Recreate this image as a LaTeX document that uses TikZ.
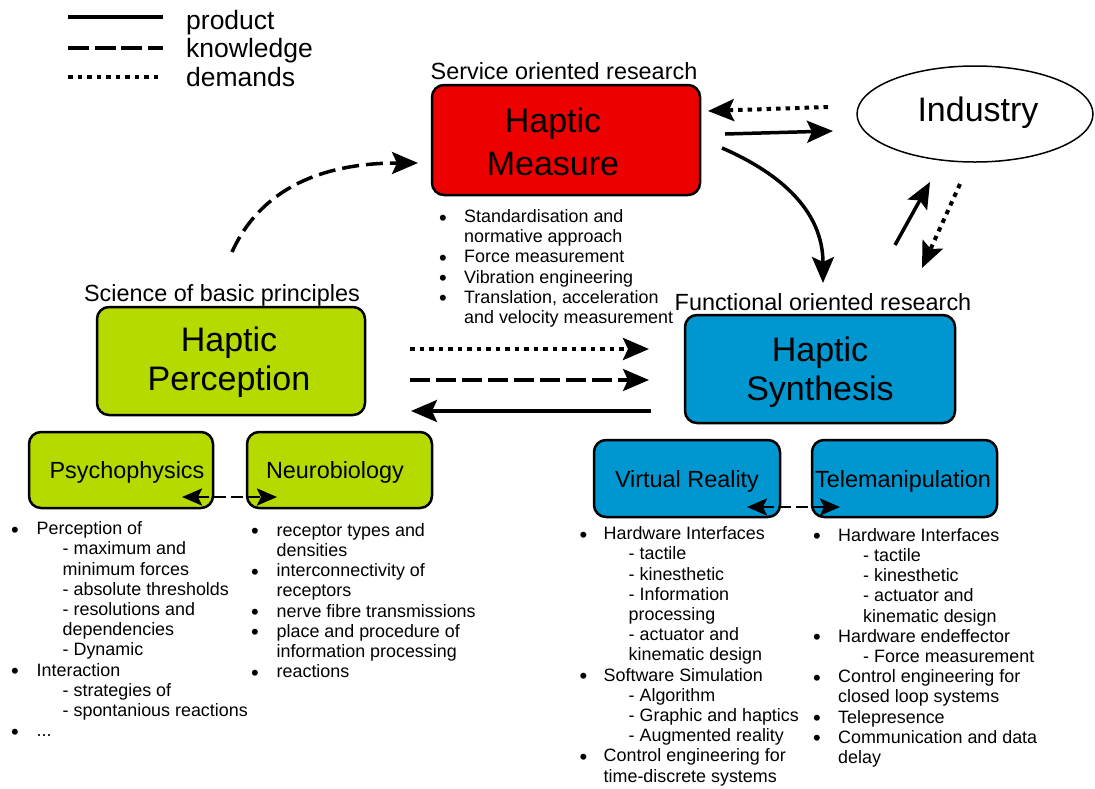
\documentclass[tikz,border=0pt]{standalone}
\usepackage{fontspec}
\setmainfont{Liberation Sans}
\usetikzlibrary{arrows.meta,shapes.geometric}

\definecolor{measred}{RGB}{237,0,0}
\definecolor{percgreen}{RGB}{180,218,0}
\definecolor{synthblue}{RGB}{0,150,207}

% bullet with a fixed-width hanging box
\newcommand\bul[1][25pt]{\makebox[#1][l]{\raisebox{-2.5pt}{\fontsize{22}{20}\selectfont\textbullet}}}

\begin{document}
\begin{tikzpicture}[x=1pt,y=-1pt,
  box/.style={draw=black, line width=2.5pt, rounded corners=12pt, inner sep=0pt},
  biglabel/.style={font=\fontsize{34}{40}\selectfont, inner sep=0pt, anchor=base},
  sublabel/.style={font=\fontsize{23.4}{28}\selectfont, inner sep=0pt, anchor=base},
  heading/.style={font=\fontsize{23.4}{28}\selectfont, inner sep=0pt, anchor=base},
  legtext/.style={font=\fontsize{26.5}{30}\selectfont, inner sep=0pt, anchor=base west},
  itemlist/.style={font=\fontsize{17.9}{20.2}\selectfont, inner sep=0pt, anchor=north west, align=left},
  product/.style={line width=3.5pt},
  knowledge/.style={line width=3.5pt, dash pattern=on 20pt off 6pt},
  demand/.style={line width=4pt, dash pattern=on 4.5pt off 5pt},
  bigtip/.style={-{Stealth[length=26pt,width=22pt,inset=5pt]}},
  twotip/.style={{Stealth[length=20pt,width=17pt,inset=4pt]}-{Stealth[length=20pt,width=17pt,inset=4pt]}},
]
\useasboundingbox (0,0) rectangle (1095,788);

% ---------- legend ----------
\coordinate (lg1a) at (68,17);   \coordinate (lg1b) at (163,17);
\coordinate (lg2a) at (68,48);   \coordinate (lg2b) at (163,48);
\coordinate (lg3a) at (68,77);   \coordinate (lg3b) at (163,77);
\draw[line width=4pt] (lg1a) -- (lg1b);
\draw[line width=4pt, dash pattern=on 21pt off 5.5pt] (lg2a) -- (lg2b);
\draw[line width=4pt, dash pattern=on 4.5pt off 5pt] (lg3a) -- (lg3b);
\node[legtext] (legprod) at (186,29) {product};
\node[legtext] (legknow) at (186,57.5) {knowledge};
\node[legtext] (legdem)  at (186,86) {demands};

% ---------- main boxes ----------
\node[box, fill=measred, minimum width=268pt, minimum height=110pt] (meas) at (566,140) {};
\node[biglabel] (measA) at (553,132) {Haptic};
\node[biglabel] (measB) at (553,175.5) {Measure};
\node[heading] (measH) at (564,79) {Service oriented research};

\node[box, fill=percgreen, minimum width=268pt, minimum height=108pt] (perc) at (231,361) {};
\node[biglabel] (percA) at (229,351) {Haptic};
\node[biglabel] (percB) at (229,390) {Perception};
\node[heading] (percH) at (222,301.5) {Science of basic principles};

\node[box, fill=synthblue, minimum width=270pt, minimum height=108pt] (synt) at (820,369) {};
\node[biglabel] (syntA) at (820,361.7) {Haptic};
\node[biglabel] (syntB) at (820,400.7) {Synthesis};
\node[heading] (syntH) at (823,310.7) {Functional oriented research};

% ---------- sub boxes ----------
\node[box, fill=percgreen, minimum width=184pt, minimum height=76pt] (psy) at (121,470) {};
\node[sublabel] (psyT) at (127,478) {Psychophysics};
\node[box, fill=percgreen, minimum width=185pt, minimum height=76pt] (neu) at (339.5,470) {};
\node[sublabel] (neuT) at (335,478) {Neurobiology};

\node[box, fill=synthblue, minimum width=186pt, minimum height=77pt] (vr) at (687,478.5) {};
\node[sublabel] (vrT) at (687,487) {Virtual Reality};
\node[box, fill=synthblue, minimum width=185pt, minimum height=77pt] (tele) at (904.5,478.5) {};
\node[sublabel] (teleT) at (903,487) {Telemanipulation};

% ---------- industry ----------
\node[draw=black, line width=1.5pt, ellipse, minimum width=236pt, minimum height=96pt, inner sep=0pt] (ind) at (975,114) {};
\node[biglabel] (indT) at (978,121.7) {Industry};

% ---------- connectors ----------
% between Industry and Haptic Measure
\coordinate (im1) at (828,107);  \coordinate (im2) at (708,111);
\draw[demand, bigtip] (im1) -- (im2);
\coordinate (mi1) at (725,134);  \coordinate (mi2) at (833,131);
\draw[product, bigtip] (mi1) -- (mi2);
% Haptic Measure down to Haptic Synthesis
\coordinate (ms1) at (722,148);  \coordinate (ms2) at (823,283);
\draw[product, bigtip] (ms1) .. controls (782,174) and (823,212) .. (ms2);
% between Haptic Synthesis and Industry
\coordinate (si1) at (895,245);  \coordinate (si2) at (930,182);
\draw[product, bigtip] (si1) -- (si2);
\coordinate (is1) at (960,184);  \coordinate (is2) at (922,268);
\draw[demand, bigtip] (is1) -- (is2);
% Haptic Perception up to Haptic Measure
\coordinate (pm1) at (232,252);  \coordinate (pm2) at (418,163);
\draw[knowledge, dash pattern=on 17pt off 7pt, bigtip] (pm1) .. controls (260,190) and (320,163) .. (pm2);
% between Haptic Perception and Haptic Synthesis
\coordinate (ps1) at (410,349);  \coordinate (ps2) at (649,349);
\draw[demand, bigtip] (ps1) -- (ps2);
\coordinate (ps3) at (410,380);  \coordinate (ps4) at (649,380);
\draw[knowledge, bigtip] (ps3) -- (ps4);
\coordinate (sp1) at (651,411);  \coordinate (sp2) at (411,411);
\draw[product, bigtip] (sp1) -- (sp2);
% between the sub boxes
\coordinate (pn1) at (182,497);  \coordinate (pn2) at (277,497);
\draw[line width=2.5pt, dash pattern=on 12pt off 5pt, twotip] (pn1) -- (pn2);
\coordinate (vt1) at (747,507);  \coordinate (vt2) at (840,507);
\draw[line width=2.5pt, dash pattern=on 12pt off 5pt, twotip] (vt1) -- (vt2);

% ---------- item lists ----------
\node[itemlist] (measL) at (439,208.2) {\strut\bul Standardisation and\\
\hspace*{25pt}normative approach\\
\bul Force measurement\\
\bul Vibration engineering\\
\bul Translation, acceleration\\
\hspace*{25pt}and velocity measurement};

\node[itemlist] (psyL) at (11,520.4) {\strut\bul[25.5pt]Perception of\\
\hspace*{51.5pt}- maximum and\\
\hspace*{51.5pt}minimum forces\\
\hspace*{51.5pt}- absolute thresholds\\
\hspace*{51.5pt}- resolutions and\\
\hspace*{51.5pt}dependencies\\
\hspace*{51.5pt}- Dynamic\\
\bul[25.5pt]Interaction\\
\hspace*{51.5pt}- strategies of\\
\hspace*{51.5pt}- spontanious reactions\\
\bul[25.5pt]...};

\node[itemlist] (neuL) at (251,521.9) {\strut\bul[25.5pt]receptor types and\\
\hspace*{25.5pt}densities\\
\bul[25.5pt]interconnectivity of\\
\hspace*{25.5pt}receptors\\
\bul[25.5pt]nerve fibre transmissions\\
\bul[25.5pt]place and procedure of\\
\hspace*{25.5pt}information processing\\
\bul[25.5pt]reactions};

\node[itemlist] (vrL) at (579.5,525.4) {\strut\bul[24pt]Hardware Interfaces\\
\hspace*{49pt}- tactile\\
\hspace*{49pt}- kinesthetic\\
\hspace*{49pt}- Information\\
\hspace*{49pt}processing\\
\hspace*{49pt}- actuator and\\
\hspace*{49pt}kinematic design\\
\bul[24pt]Software Simulation\\
\hspace*{49pt}- Algorithm\\
\hspace*{49pt}- Graphic and haptics\\
\hspace*{49pt}- Augmented reality\\
\bul[24pt]Control engineering for\\
\hspace*{24pt}time-discrete systems};

\node[itemlist] (teleL) at (813,526.9) {\strut\bul Hardware Interfaces\\
\hspace*{50pt}- tactile\\
\hspace*{50pt}- kinesthetic\\
\hspace*{50pt}- actuator and\\
\hspace*{50pt}kinematic design\\
\bul Hardware endeffector\\
\hspace*{50pt}- Force measurement\\
\bul Control engineering for\\
\hspace*{25pt}closed loop systems\\
\bul Telepresence\\
\bul Communication and data\\
\hspace*{25pt}delay};

\end{tikzpicture}
\end{document}
